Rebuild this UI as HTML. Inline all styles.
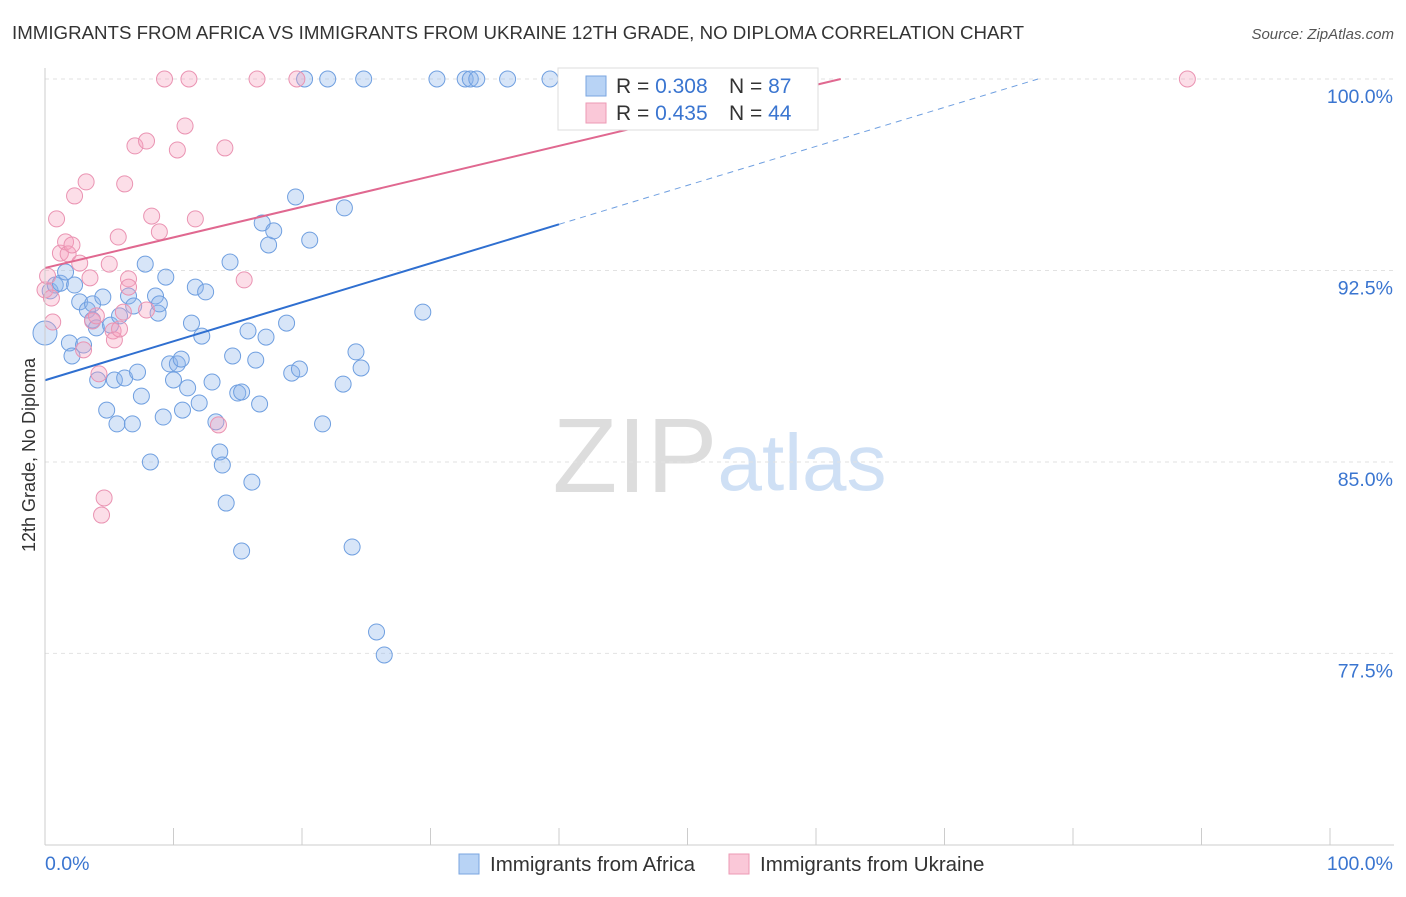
<!DOCTYPE html>
<html><head><meta charset="utf-8">
<style>
body{margin:0;background:#fff;font-family:"Liberation Sans",sans-serif;}
svg text{font-family:"Liberation Sans",sans-serif;}
</style></head>
<body>
<svg id="chart" width="1406" height="892" xmlns="http://www.w3.org/2000/svg">
<text x="12" y="39" font-size="18" fill="#333" textLength="1012" lengthAdjust="spacingAndGlyphs">IMMIGRANTS FROM AFRICA VS IMMIGRANTS FROM UKRAINE 12TH GRADE, NO DIPLOMA CORRELATION CHART</text>
<text x="1394" y="39" font-size="15" fill="#555" font-style="italic" text-anchor="end">Source: ZipAtlas.com</text>
<g>
<text x="635" y="492" font-size="106" fill="#ddd" font-family="Liberation Serif,serif" text-anchor="middle">ZIP</text>
<text x="802" y="490" font-size="80" fill="#cfe0f5" text-anchor="middle">atlas</text>
</g>
<g id="grid"></g>
<g id="marks"></g>
<g id="axes"></g>
<text transform="translate(35,455) rotate(-90)" font-size="18" fill="#333" text-anchor="middle">12th Grade, No Diploma</text>
<g>
<rect x="558" y="68" width="260" height="62" fill="#fff" stroke="#ddd"/>
<rect x="586" y="76" width="20" height="20" fill="#b8d3f5" stroke="#7aa6e0"/>
<rect x="586" y="103" width="20" height="20" fill="#fac8d8" stroke="#ec9ab5"/>
<text x="616" y="93" font-size="21" fill="#333">R = <tspan fill="#3a75d0">0.308</tspan></text>
<text x="729" y="93" font-size="21" fill="#333">N = <tspan fill="#3a75d0">87</tspan></text>
<text x="616" y="120" font-size="21" fill="#333">R = <tspan fill="#3a75d0">0.435</tspan></text>
<text x="729" y="120" font-size="21" fill="#333">N = <tspan fill="#3a75d0">44</tspan></text>
</g>
<g>
<rect x="459" y="854" width="20" height="20" fill="#b8d3f5" stroke="#7aa6e0"/>
<text x="490" y="871" font-size="20.5" fill="#333">Immigrants from Africa</text>
<rect x="729" y="854" width="20" height="20" fill="#fac8d8" stroke="#ec9ab5"/>
<text x="760" y="871" font-size="20.5" fill="#333">Immigrants from Ukraine</text>
</g>
</svg>
<script>
const africaX=[0,0.4,0.8,1.2,1.6,2.3,1.9,2.1,2.7,3.0,3.3,3.7,3.7,4.0,4.1,4.5,4.8,5.1,5.4,5.6,5.8,6.2,6.5,6.8,6.9,7.2,7.5,7.8,8.2,8.6,8.8,8.9,9.2,9.4,9.7,10.0,10.3,10.6,10.7,11.1,11.4,11.7,12.0,12.2,12.5,13.0,13.3,13.6,13.8,14.1,14.4,14.6,15.0,15.3,15.3,15.8,16.1,16.4,16.7,16.9,17.2,17.4,17.8,18.8,19.2,19.5,19.8,20.6,21.6,23.2,23.3,23.9,24.2,24.6,25.8,26.4,29.4,20.2,22.0,24.8,30.5,32.7,33.1,33.6,36.0,39.3];
const africaY=[90.05,91.7,91.93,92.0,92.44,91.93,89.66,89.15,91.27,89.58,90.95,91.19,90.56,90.25,88.21,91.46,87.03,90.36,88.21,86.49,90.72,88.29,91.5,86.49,91.11,88.52,87.58,92.75,85.0,91.5,90.83,91.19,86.76,92.24,88.84,88.21,88.84,89.03,87.03,87.9,90.44,91.85,87.31,89.93,91.66,88.13,86.57,85.39,84.88,83.39,92.83,89.15,87.7,87.74,81.51,90.13,84.21,88.99,87.27,94.36,89.89,93.5,94.05,90.44,88.48,95.38,88.64,93.69,86.49,88.05,94.95,81.67,89.31,88.68,78.34,77.44,90.87,100,100,100,100,100,100,100,100,100];
const ukraineX=[0,0.2,0.5,0.6,0.9,1.2,1.6,1.8,2.1,2.3,2.7,3.0,3.2,3.5,3.7,4.0,4.2,4.4,4.6,5.0,5.3,5.4,5.7,6.1,6.2,6.5,6.5,7.0,7.9,7.9,8.3,8.9,9.3,10.3,10.9,11.2,11.7,13.5,14.0,15.5,16.5,19.6,88.9,5.8];
const ukraineY=[91.74,92.28,91.42,90.48,94.52,93.18,93.62,93.15,93.5,95.42,92.79,89.39,95.97,92.21,90.52,90.72,88.45,82.92,83.59,92.75,90.13,89.78,93.81,90.87,95.89,92.17,91.85,97.38,97.57,90.95,94.63,94.01,100,97.22,98.16,100,94.52,86.45,97.3,92.13,100,100,100,90.21];
const trendAfrica=[88.2,0.1527];
const trendUkraine=[92.6,0.1195];
const yTicks=[100,92.5,85,77.5];
const yTickLabels=["100.0%","92.5%","85.0%","77.5%"];
const NS="http://www.w3.org/2000/svg";
const sx=v=>45+v*12.85;
const sy=v=>79+(100-v)*25.53;
function mk(tag,attrs,parent){const e=document.createElementNS(NS,tag);for(const k in attrs)e.setAttribute(k,attrs[k]);parent.appendChild(e);return e;}
const grid=document.getElementById('grid'),marks=document.getElementById('marks'),axes=document.getElementById('axes');
yTicks.forEach((t,i)=>{
 const l=mk('line',{x1:45,x2:1394,y1:sy(t),y2:sy(t),stroke:'#e2e2e2','stroke-dasharray':'4,4'},grid);
 
 
 const tx=mk('text',{x:1393,y:sy(t)+24,'font-size':19.5,fill:'#3a75d0','text-anchor':'end'},axes);
 tx.textContent=yTickLabels[i];
 
 
});
const ax=mk('line',{x1:45,x2:1394,y1:845,y2:845,stroke:'#ccc'},axes);


const ay=mk('line',{x1:45,x2:45,y1:68,y2:845,stroke:'#ccc'},axes);


for(let i=0;i<=10;i++){const t=mk('line',{x1:sx(i*10),x2:sx(i*10),y1:828,y2:845,stroke:'#ccc'},axes);
 
 }
const x0=mk('text',{x:45,y:870,'font-size':19.5,fill:'#3a75d0'},axes);x0.textContent='0.0%';


const x1=mk('text',{x:1393,y:870,'font-size':19.5,fill:'#3a75d0','text-anchor':'end'},axes);x1.textContent='100.0%';


function dots(X,Y,fill,stroke,name){X.forEach((x,i)=>{
 const c=mk('circle',{cx:sx(x),cy:sy(Y[i]),r:(i===0&&name==='africa-point')?12:8,fill:fill,stroke:stroke,'stroke-width':1},marks);
 
 });}
dots(africaX,africaY,'rgba(140,180,235,0.35)','#6f9fe0','africa-point');
dots(ukraineX,ukraineY,'rgba(245,160,190,0.35)','#ea93b2','ukraine-point');
const fa=x=>trendAfrica[0]+trendAfrica[1]*x, fu=x=>trendUkraine[0]+trendUkraine[1]*x;
const xa=(100-trendAfrica[0])/trendAfrica[1], xu=(100-trendUkraine[0])/trendUkraine[1];
let l1=mk('line',{x1:sx(0),y1:sy(fa(0)),x2:sx(40),y2:sy(fa(40)),stroke:'#2f6fd0','stroke-width':2},marks);


let l2=mk('line',{x1:sx(40),y1:sy(fa(40)),x2:sx(xa),y2:sy(100),stroke:'#6f9fe0','stroke-width':1,'stroke-dasharray':'6,5'},marks);


let l3=mk('line',{x1:sx(0),y1:sy(fu(0)),x2:sx(xu),y2:sy(100),stroke:'#e06890','stroke-width':2},marks);


</script>
</body></html>
